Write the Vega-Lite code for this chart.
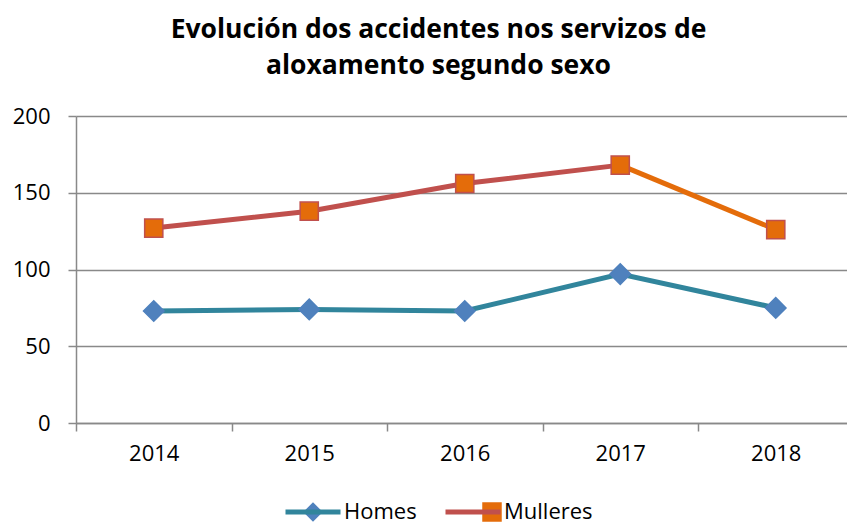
{
  "$schema": "https://vega.github.io/schema/vega-lite/v6.json",
  "width": 771,
  "height": 307,
  "autosize": {"type": "none"},
  "padding": {"left": 76, "top": 116, "right": 0, "bottom": 101},
  "background": "white",
  "config": {"view": {"stroke": null}, "font": "Open Sans"},
  "title": {
    "text": ["Evolución dos accidentes nos servizos de", "aloxamento segundo sexo"],
    "font": "Open Sans",
    "fontSize": 26.5,
    "fontWeight": "bold",
    "color": "#000000",
    "anchor": "middle",
    "frame": "group",
    "dx": -23,
    "lineHeight": 36,
    "offset": 26
  },
  "data": {
    "values": [
      {"ano": "2014", "serie": "Homes", "valor": 73},
      {"ano": "2015", "serie": "Homes", "valor": 74},
      {"ano": "2016", "serie": "Homes", "valor": 73},
      {"ano": "2017", "serie": "Homes", "valor": 97},
      {"ano": "2018", "serie": "Homes", "valor": 75},
      {"ano": "2014", "serie": "Mulleres", "valor": 127},
      {"ano": "2015", "serie": "Mulleres", "valor": 138},
      {"ano": "2016", "serie": "Mulleres", "valor": 156},
      {"ano": "2017", "serie": "Mulleres", "valor": 168},
      {"ano": "2018", "serie": "Mulleres", "valor": 126}
    ]
  },
  "resolve": {"scale": {"stroke": "independent"}, "legend": {"stroke": "independent"}},
  "encoding": {
    "x": {
      "field": "ano",
      "type": "ordinal",
      "scale": {"type": "band", "paddingInner": 0, "paddingOuter": 0, "range": [0, 777.5]},
      "axis": {
        "title": null,
        "tickBand": "extent",
        "labelAngle": 0,
        "grid": false,
        "domainColor": "#898989",
        "domainWidth": 1.5,
        "tickColor": "#898989",
        "tickWidth": 1.5,
        "tickSize": 8,
        "labelFont": "Open Sans",
        "labelFontSize": 22,
        "labelColor": "#000000",
        "labelPadding": 12
      }
    },
    "y": {
      "field": "valor",
      "type": "quantitative",
      "scale": {"domain": [0, 200], "nice": false},
      "axis": {
        "title": null,
        "values": [0, 50, 100, 150, 200],
        "grid": true,
        "gridColor": "#898989",
        "gridWidth": 1.5,
        "domainColor": "#898989",
        "domainWidth": 1.5,
        "tickColor": "#898989",
        "tickWidth": 1.5,
        "tickSize": 8,
        "labelFont": "Open Sans",
        "labelFontSize": 22,
        "labelColor": "#000000",
        "labelPadding": 18
      }
    }
  },
  "layer": [
    {
      "transform": [{"filter": "!(datum.serie === 'Mulleres' && datum.ano === '2018')"}],
      "mark": {"type": "line", "strokeWidth": 5},
      "encoding": {
        "stroke": {
          "field": "serie",
          "type": "nominal",
          "scale": {"domain": ["Homes", "Mulleres"], "range": ["#31859C", "#C0504D"]},
          "legend": {
            "orient": "none",
            "legendX": 207,
            "legendY": 385,
            "direction": "horizontal",
            "title": null,
            "symbolType": "stroke",
            "symbolSize": 3025,
            "symbolStrokeWidth": 5,
            "labelFont": "Open Sans",
            "labelFontSize": 22,
            "labelColor": "#000000",
            "labelOffset": 1,
            "columnPadding": 26,
            "clipHeight": 22,
            "padding": 0
          }
        }
      }
    },
    {
      "transform": [{"filter": "datum.serie === 'Mulleres' && (datum.ano === '2017' || datum.ano === '2018')"}],
      "mark": {"type": "line", "strokeWidth": 5, "stroke": "#E46C0A"},
      "encoding": {}
    },
    {
      "mark": {"type": "point", "filled": true, "opacity": 1, "strokeWidth": 1.5},
      "encoding": {
        "fill": {
          "field": "serie",
          "type": "nominal",
          "scale": {"range": ["#4F81BD", "#E46C0A"]},
          "legend": {
            "orient": "none",
            "legendX": 207,
            "legendY": 385,
            "direction": "horizontal",
            "title": null,
            "symbolSize": 380,
            "symbolStrokeWidth": 1.5,
            "symbolOffset": 19,
            "labelOffset": 39,
            "labelOpacity": 0,
            "labelFont": "Open Sans",
            "labelFontSize": 22,
            "columnPadding": 26,
            "clipHeight": 22,
            "padding": 0,
            "encode": {
              "symbols": {
                "update": {
                  "stroke": {"signal": "datum.value === 'Homes' ? '#4F81BD' : '#C0504D'"},
                  "strokeWidth": {"value": 1.5}
                }
              }
            }
          }
        },
        "shape": {
          "field": "serie",
          "type": "nominal",
          "scale": {"range": ["diamond", "square"]}
        },
        "size": {"condition": {"test": "datum.serie === 'Homes'", "value": 420}, "value": 330},
        "stroke": {
          "field": "serie",
          "type": "nominal",
          "scale": {"domain": ["Homes", "Mulleres"], "range": ["#4F81BD", "#C0504D"]},
          "legend": null
        }
      }
    }
  ]
}
